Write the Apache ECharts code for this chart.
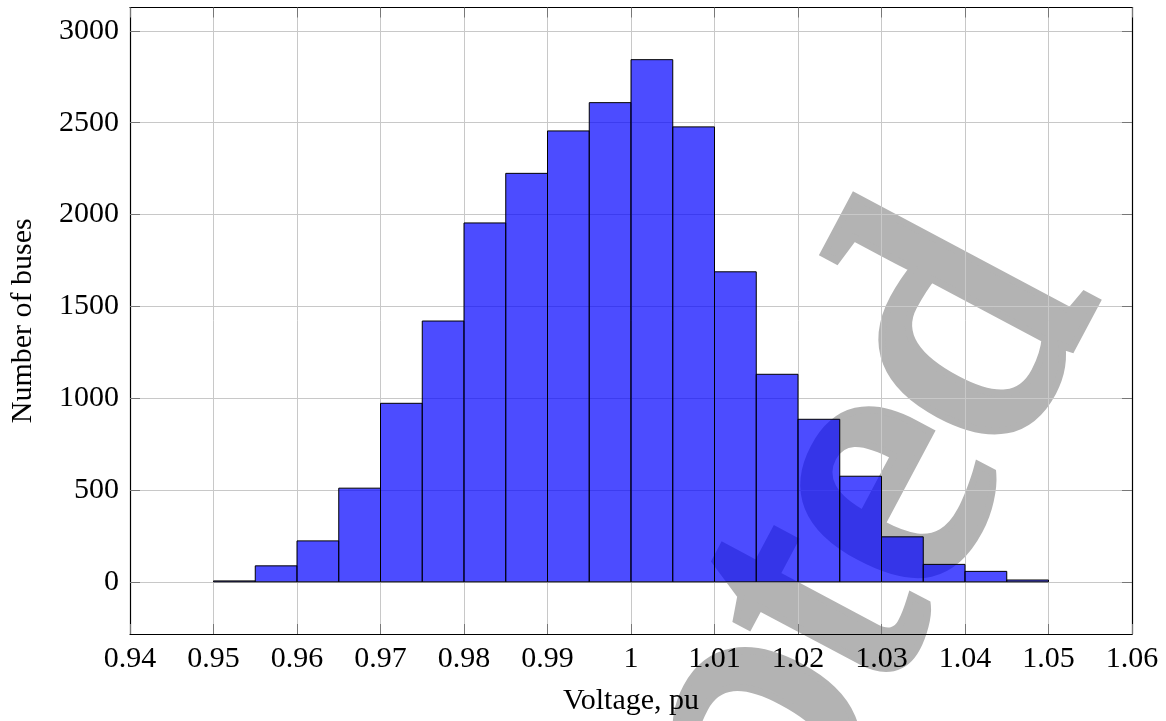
<!DOCTYPE html>
<html>
<head>
<meta charset="utf-8">
<script src="https://cdn.jsdelivr.net/npm/echarts@6/dist/echarts.min.js"></script>
<style>
  html, body { margin: 0; padding: 0; background: #fff; }
  #chart { width: 1166px; height: 721px; }
</style>
</head>
<body>
<div id="chart"></div>
<script>
// histogram bins (voltage, pu) and bus counts
const binEdges = [0.950, 0.955, 0.960, 0.965, 0.970, 0.975, 0.980, 0.985, 0.990, 0.995,
                  1.000, 1.005, 1.010, 1.015, 1.020, 1.025, 1.030, 1.035, 1.040, 1.045, 1.050]
const busCounts = [5, 87, 223, 510, 972, 1420, 1954, 2224, 2455, 2609,
                   2843, 2477, 1688, 1130, 885, 575, 245, 95, 57, 10]

// tick labels
const xTicks = [0.94, 0.95, 0.96, 0.97, 0.98, 0.99, 1, 1.01, 1.02, 1.03, 1.04, 1.05, 1.06]
const yTicks = [0, 500, 1000, 1500, 2000, 2500, 3000]

const xMin = 0.94
const xMax = 1.06
const yMin = -284
const yMax = 3127

const fontFamily = '"Liberation Serif", "DejaVu Serif", serif'

// [start, end, count] per bar
const histData = busCounts.map((c, i) => [binEdges[i], binEdges[i + 1], c])

const chart = echarts.init(document.getElementById('chart'), null, { renderer: 'canvas' })

// shared axis look (pgfplots style: ticks inside, light grid)
const tickStyle = { inside: true, length: 10, lineStyle: { color: '#777', width: 1 } }
const lineStyle = { show: true, onZero: false, lineStyle: { color: '#000', width: 1.2 } }

const option = {
  backgroundColor: '#fff',
  animation: false,
  grid: { left: 128, right: 34, top: 7.5, bottom: 85, containLabel: false },
  // watermark, drawn under the bars
  graphic: [
    {
      type: 'text',
      z: -10,
      zlevel: 0,
      silent: true,
      x: 1172,
      y: 340,
      rotation: 62 * Math.PI / 180,
      style: {
        text: 'Accepted',
        font: '370px ' + fontFamily,
        fill: '#b3b3b3',
        stroke: '#b3b3b3',
        lineWidth: 14,
        lineJoin: 'miter',
        align: 'right',
        verticalAlign: 'bottom'
      }
    }
  ],
  xAxis: [
    {
      type: 'value',
      min: xMin,
      max: xMax,
      position: 'bottom',
      axisLine: lineStyle,
      axisTick: Object.assign({ customValues: xTicks }, tickStyle),
      axisLabel: {
        customValues: xTicks,
        formatter: v => String(v),
        color: '#000',
        fontFamily: fontFamily,
        fontSize: 30,
        margin: 10
      },
      splitLine: { show: true, lineStyle: { color: '#c8c8c8', width: 1 } },
      name: 'Voltage, pu',
      nameLocation: 'middle',
      nameGap: 52,
      nameTextStyle: { color: '#000', fontFamily: fontFamily, fontSize: 30 }
    },
    {
      type: 'value',
      min: xMin,
      max: xMax,
      position: 'top',
      axisLine: lineStyle,
      axisTick: Object.assign({ customValues: xTicks }, tickStyle),
      axisLabel: { show: false },
      splitLine: { show: false }
    }
  ],
  yAxis: [
    {
      type: 'value',
      min: yMin,
      max: yMax,
      position: 'left',
      axisLine: lineStyle,
      axisTick: Object.assign({ customValues: yTicks }, tickStyle),
      axisLabel: {
        customValues: yTicks,
        formatter: v => String(v),
        color: '#000',
        fontFamily: fontFamily,
        fontSize: 30,
        margin: 11
      },
      splitLine: { show: true, lineStyle: { color: '#c8c8c8', width: 1 } },
      name: 'Number of buses',
      nameLocation: 'middle',
      nameGap: 92,
      nameRotate: 90,
      nameTextStyle: { color: '#000', fontFamily: fontFamily, fontSize: 30 }
    },
    {
      type: 'value',
      min: yMin,
      max: yMax,
      position: 'right',
      axisLine: lineStyle,
      axisTick: Object.assign({ customValues: yTicks }, tickStyle),
      axisLabel: { show: false },
      splitLine: { show: false }
    }
  ],
  series: [
    {
      type: 'custom',
      xAxisIndex: 0,
      yAxisIndex: 0,
      z: 5,
      encode: { x: [0, 1], y: 2 },
      data: histData,
      renderItem: (params, api) => {
        const topLeft = api.coord([api.value(0), api.value(2)])
        const bottomRight = api.coord([api.value(1), 0])
        return {
          type: 'rect',
          shape: {
            x: topLeft[0],
            y: topLeft[1],
            width: bottomRight[0] - topLeft[0],
            height: bottomRight[1] - topLeft[1]
          },
          style: { fill: 'rgba(0,0,255,0.7)', stroke: '#000', lineWidth: 1 }
        }
      }
    }
  ]
}

chart.setOption(option)
</script>
</body>
</html>
